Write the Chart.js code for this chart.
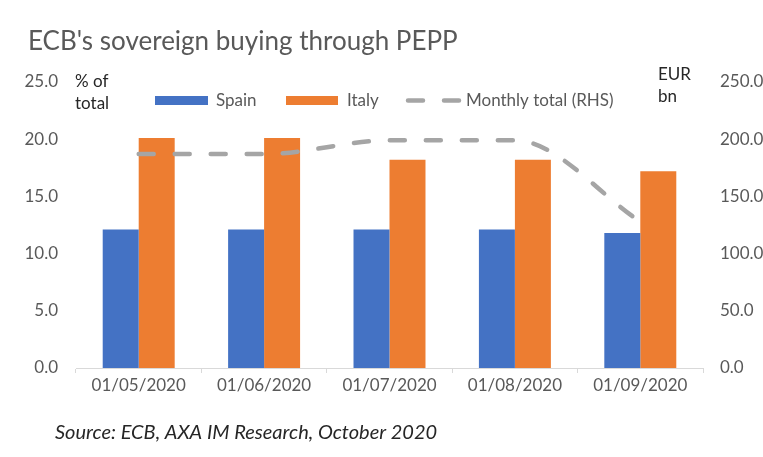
<!DOCTYPE html>
<html>
<head>
<meta charset="utf-8">
<script src="https://cdn.jsdelivr.net/npm/chart.js@4.4.1/dist/chart.umd.min.js"></script>
<style>
  html, body { margin: 0; padding: 0; background: #ffffff; }
  #wrap { width: 763px; height: 457px; position: relative; }
  canvas { display: block; }
</style>
</head>
<body>
<div id="wrap"><canvas id="c" width="763" height="457"></canvas></div>
<script>
// ---- data ----
const categories = ['01/05/2020', '01/06/2020', '01/07/2020', '01/08/2020', '01/09/2020'];
const spain = [12.1, 12.1, 12.1, 12.1, 11.8];          // % of total (LHS)
const italy = [20.1, 20.1, 18.2, 18.2, 17.2];          // % of total (LHS)
const monthlyTotal = [187, 187, 199, 199, 128];        // EUR bn (RHS)
const seriesNames = ['Spain', 'Italy', 'Monthly total (RHS)'];
const leftTickStep = 5, leftMax = 25;
const rightTickStep = 50, rightMax = 250;
const titleText = "ECB's sovereign buying through PEPP";
const sourceText = 'Source: ECB, AXA IM Research, October 2020';
const leftUnit = ['% of', 'total'];
const rightUnit = ['EUR', 'bn'];

// ---- styles ----
const BLUE = '#4472C4', ORANGE = '#ED7D31', GREY = '#A5A5A5';
const TXT = '#595959', DARK = '#262626';
const FONT = 'Lato, "Open Sans", sans-serif';

const textPlugin = {
  id: 'texts',
  afterDraw(chart) {
    const ctx = chart.ctx;
    const ca = chart.chartArea;
    ctx.save();
    ctx.textBaseline = 'middle';
    ctx.textAlign = 'left';
    // title
    ctx.fillStyle = TXT;
    ctx.font = '26px ' + FONT;
    ctx.fillText(titleText, 28, 42);
    // source
    ctx.fillStyle = DARK;
    ctx.font = 'italic 20px ' + FONT;
    ctx.fillText(sourceText, 55, 433);
    // unit labels
    ctx.fillStyle = DARK;
    ctx.font = '17px ' + FONT;
    ctx.fillText(leftUnit[0], ca.left - 1, ca.top);
    ctx.fillText(leftUnit[1], ca.left - 1, ca.top + 22);
    ctx.fillText(rightUnit[0], ca.right - 45, ca.top - 7);
    ctx.fillText(rightUnit[1], ca.right - 45, ca.top + 15);

    // legend (inside the plot area, as in the reference)
    const ly = ca.top + 18.5;
    const ds = chart.data.datasets;
    ctx.font = '17px ' + FONT;
    // Spain
    ctx.fillStyle = ds[0].backgroundColor;
    ctx.fillRect(155, ly - 4.5, 53, 9);
    ctx.fillStyle = TXT;
    ctx.fillText(ds[0].label, 216, ly);
    // Italy
    ctx.fillStyle = ds[1].backgroundColor;
    ctx.fillRect(286, ly - 4.5, 52, 9);
    ctx.fillStyle = TXT;
    ctx.fillText(ds[1].label, 347, ly);
    // Monthly total
    ctx.strokeStyle = ds[2].borderColor;
    ctx.lineWidth = ds[2].borderWidth;
    ctx.lineCap = 'round';
    ctx.setLineDash(ds[2].borderDash);
    ctx.beginPath();
    ctx.moveTo(408, ly);
    ctx.lineTo(461, ly);
    ctx.stroke();
    ctx.setLineDash([]);
    ctx.fillStyle = TXT;
    ctx.fillText(ds[2].label, 466, ly);
    ctx.restore();
  }
};

new Chart(document.getElementById('c'), {
  data: {
    labels: categories,
    datasets: [
      { type: 'bar', label: seriesNames[0], data: spain, backgroundColor: BLUE, yAxisID: 'y', order: 2,
        categoryPercentage: 0.574, barPercentage: 1.0 },
      { type: 'bar', label: seriesNames[1], data: italy, backgroundColor: ORANGE, yAxisID: 'y', order: 2,
        categoryPercentage: 0.574, barPercentage: 1.0 },
      { type: 'line', label: seriesNames[2], data: monthlyTotal, borderColor: GREY, backgroundColor: GREY,
        borderWidth: 4.5, borderDash: [15, 21], borderCapStyle: 'round', pointRadius: 0, pointHoverRadius: 0,
        cubicInterpolationMode: 'monotone', tension: 0.4, fill: false, yAxisID: 'y1', order: 0 }
    ]
  },
  options: {
    responsive: false,
    devicePixelRatio: 1,
    animation: false,
    layout: { padding: { top: 82, bottom: 59, left: 0, right: 0 } },
    plugins: {
      legend: { display: false },
      title: { display: false },
      tooltip: { enabled: false }
    },
    scales: {
      x: {
        offset: true,
        grid: { display: true, offset: true, drawOnChartArea: false, drawTicks: true, tickLength: 5, color: '#D9D9D9' },
        border: { display: true, color: '#D9D9D9', width: 1 },
        ticks: { color: TXT, font: { family: FONT, size: 17 }, padding: 2, maxRotation: 0, autoSkip: false },
        afterFit(s) { s.height = 30; }
      },
      y: {
        position: 'left',
        min: 0, max: leftMax,
        grid: { display: false, drawTicks: false },
        border: { display: false },
        ticks: { stepSize: leftTickStep, color: TXT, font: { family: FONT, size: 17 }, padding: 18,
                 callback: v => Number(v).toFixed(1) },
        afterFit(s) { s.width = 76; }
      },
      y1: {
        position: 'right',
        min: 0, max: rightMax,
        grid: { display: false, drawTicks: false },
        border: { display: false },
        ticks: { stepSize: rightTickStep, color: TXT, font: { family: FONT, size: 17 }, padding: 17,
                 callback: v => Number(v).toFixed(1) },
        afterFit(s) { s.width = 60; }
      }
    }
  },
  plugins: [textPlugin]
});
</script>
</body>
</html>
